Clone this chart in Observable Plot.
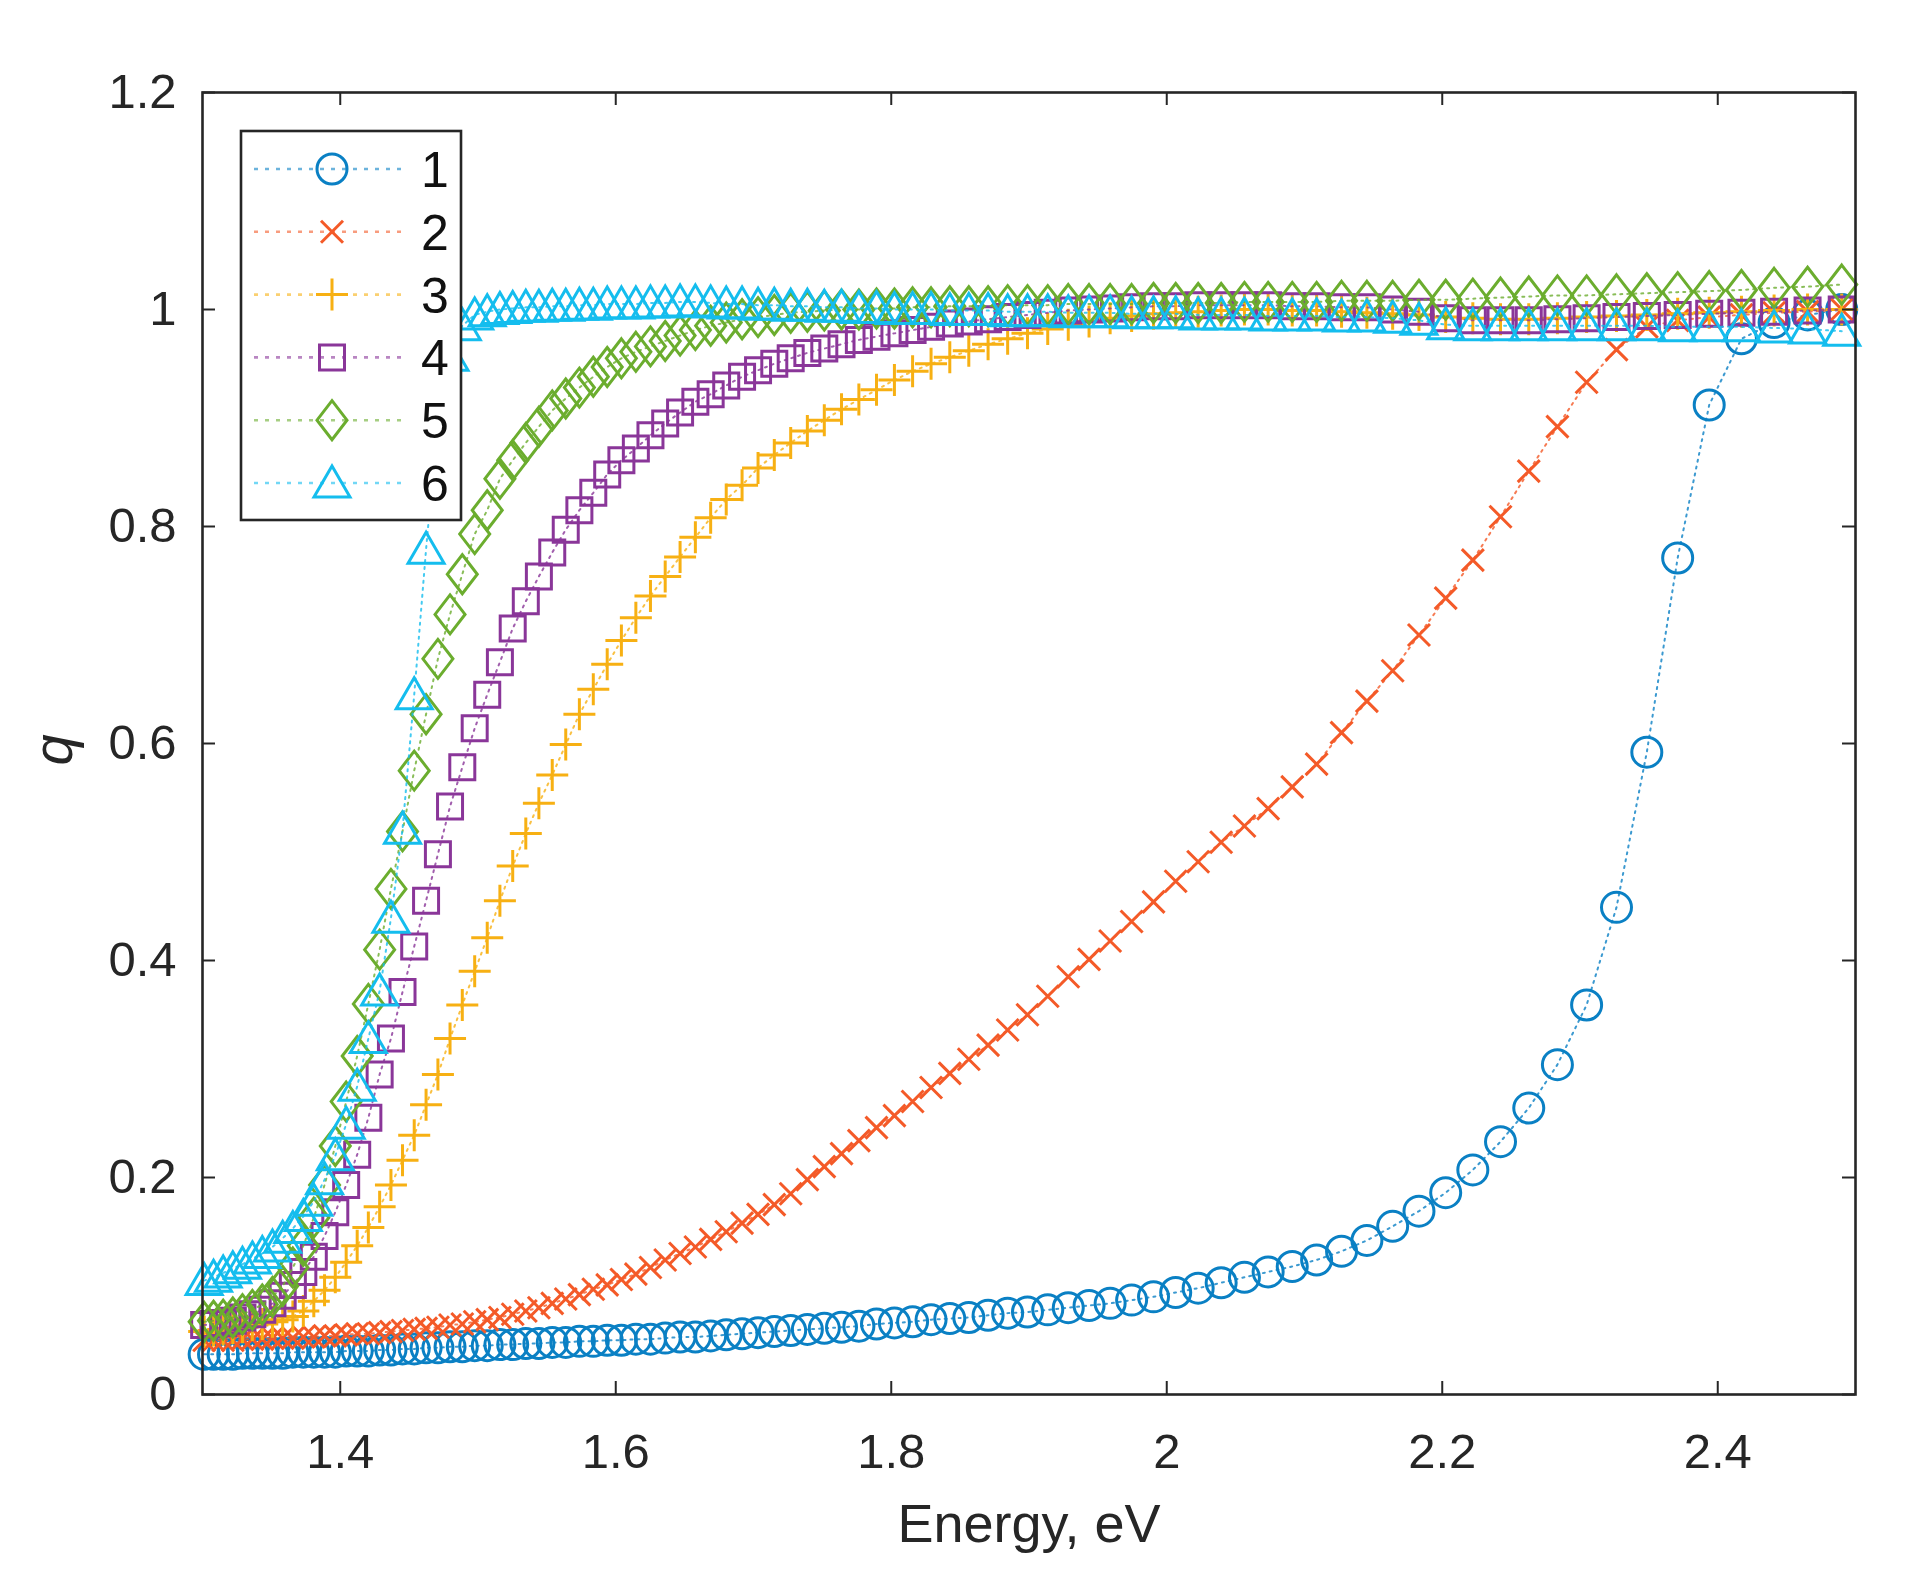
<!DOCTYPE html>
<html>
<head>
<meta charset="utf-8">
<script src="https://cdn.jsdelivr.net/npm/d3@7"></script>
<script src="https://cdn.jsdelivr.net/npm/@observablehq/plot@0.6"></script>
<style>
  html, body { margin: 0; padding: 0; background: #fff; }
  #wrap { position: relative; width: 1932px; height: 1582px; }
  #wrap > svg { position: absolute; left: 0; top: 0; }
</style>
</head>
<body>
<div id="wrap"></div>
<script>
// Photon energies (eV) of the sampled points
const energy = [
  1.3012,1.3080,1.3150,1.3220,1.3290,1.3362,1.3434,1.3508,1.3582,1.3656,
  1.3732,1.3808,1.3886,1.3964,1.4043,1.4123,1.4204,1.4286,1.4368,1.4452,
  1.4537,1.4623,1.4709,1.4797,1.4886,1.4976,1.5067,1.5159,1.5252,1.5347,
  1.5442,1.5539,1.5637,1.5736,1.5837,1.5938,1.6041,1.6146,1.6252,1.6359,
  1.6467,1.6578,1.6689,1.6802,1.6917,1.7033,1.7151,1.7270,1.7391,1.7514,
  1.7639,1.7765,1.7893,1.8023,1.8155,1.8289,1.8425,1.8563,1.8703,1.8845,
  1.8989,1.9136,1.9285,1.9436,1.9589,1.9745,1.9904,2.0065,2.0228,2.0395,
  2.0564,2.0736,2.0911,2.1088,2.1269,2.1453,2.1640,2.1831,2.2025,2.2222,
  2.2423,2.2628,2.2836,2.3048,2.3265,2.3485,2.3709,2.3938,2.4172,2.4409,
  2.4652,2.4900
];

const q1 = [
  0.037,0.037,0.037,0.037,0.038,0.038,0.038,0.038,0.038,0.039,
  0.039,0.039,0.039,0.039,0.040,0.040,0.040,0.041,0.041,0.042,
  0.042,0.043,0.043,0.044,0.044,0.045,0.045,0.046,0.046,0.047,
  0.047,0.048,0.048,0.049,0.049,0.050,0.050,0.051,0.051,0.052,
  0.053,0.053,0.054,0.055,0.056,0.057,0.058,0.059,0.060,0.061,
  0.062,0.063,0.065,0.066,0.067,0.069,0.070,0.071,0.073,0.075,
  0.076,0.078,0.080,0.082,0.084,0.087,0.090,0.094,0.098,0.103,
  0.108,0.113,0.118,0.124,0.132,0.142,0.155,0.169,0.186,0.207,
  0.233,0.264,0.304,0.359,0.449,0.592,0.771,0.912,0.973,0.988,
  0.995,1.000
];

const q2 = [
  0.050,0.050,0.050,0.050,0.051,0.051,0.051,0.052,0.052,0.052,
  0.053,0.053,0.054,0.054,0.055,0.056,0.056,0.057,0.058,0.059,
  0.060,0.061,0.062,0.064,0.065,0.067,0.069,0.071,0.074,0.077,
  0.080,0.084,0.088,0.092,0.097,0.101,0.106,0.111,0.117,0.124,
  0.130,0.136,0.143,0.150,0.158,0.166,0.175,0.185,0.198,0.210,
  0.222,0.234,0.246,0.257,0.270,0.283,0.296,0.309,0.322,0.336,
  0.350,0.367,0.385,0.401,0.418,0.436,0.454,0.473,0.491,0.509,
  0.524,0.540,0.560,0.581,0.610,0.639,0.667,0.700,0.734,0.769,
  0.809,0.851,0.892,0.933,0.963,0.984,0.990,0.993,0.995,0.997,
  0.998,1.000
];

const q3 = [
  0.058,0.059,0.060,0.061,0.062,0.064,0.065,0.067,0.069,0.072,
  0.077,0.086,0.096,0.108,0.122,0.137,0.154,0.173,0.193,0.216,
  0.239,0.267,0.295,0.328,0.359,0.390,0.421,0.455,0.487,0.517,
  0.545,0.571,0.599,0.627,0.650,0.673,0.695,0.716,0.736,0.754,
  0.772,0.790,0.808,0.825,0.838,0.854,0.866,0.877,0.888,0.898,
  0.908,0.917,0.926,0.935,0.943,0.950,0.956,0.962,0.968,0.973,
  0.978,0.982,0.986,0.989,0.992,0.994,0.996,0.997,0.998,0.999,
  1.000,1.000,0.999,0.999,0.998,0.997,0.996,0.995,0.993,0.992,
  0.991,0.991,0.992,0.993,0.994,0.995,0.996,0.997,0.998,0.999,
  1.000,1.000
];

const q4 = [
  0.064,0.065,0.066,0.068,0.071,0.074,0.078,0.084,0.091,0.101,
  0.113,0.127,0.146,0.168,0.193,0.221,0.255,0.295,0.328,0.371,
  0.413,0.455,0.498,0.542,0.578,0.614,0.645,0.675,0.706,0.731,
  0.754,0.776,0.797,0.815,0.831,0.848,0.861,0.872,0.884,0.895,
  0.905,0.915,0.922,0.930,0.938,0.944,0.950,0.955,0.960,0.964,
  0.968,0.972,0.975,0.978,0.981,0.984,0.987,0.989,0.991,0.993,
  0.995,0.997,0.999,1.000,1.001,1.002,1.003,1.003,1.004,1.004,
  1.004,1.004,1.003,1.003,1.002,1.002,1.000,0.998,0.992,0.990,
  0.990,0.990,0.991,0.992,0.993,0.994,0.995,0.996,0.997,0.998,
  0.999,1.000
];

const q5 = [
  0.067,0.068,0.069,0.071,0.074,0.078,0.083,0.090,0.100,0.117,
  0.137,0.163,0.193,0.229,0.270,0.312,0.360,0.410,0.466,0.519,
  0.575,0.627,0.678,0.719,0.756,0.793,0.815,0.844,0.861,0.877,
  0.892,0.907,0.918,0.928,0.938,0.947,0.955,0.961,0.966,0.971,
  0.976,0.981,0.985,0.988,0.991,0.993,0.995,0.997,0.998,0.999,
  1.000,1.000,1.001,1.001,1.002,1.002,1.003,1.003,1.003,1.004,
  1.004,1.004,1.005,1.005,1.005,1.005,1.006,1.006,1.006,1.006,
  1.007,1.007,1.007,1.007,1.008,1.008,1.008,1.009,1.009,1.010,
  1.011,1.012,1.013,1.013,1.014,1.015,1.016,1.017,1.018,1.020,
  1.021,1.023
];

const q6 = [
  0.105,0.108,0.112,0.116,0.120,0.125,0.130,0.136,0.144,0.153,
  0.164,0.178,0.198,0.220,0.249,0.284,0.328,0.372,0.439,0.521,
  0.645,0.779,0.900,0.957,0.985,0.995,0.998,1.000,1.001,1.002,
  1.002,1.003,1.003,1.004,1.004,1.005,1.005,1.005,1.006,1.006,
  1.007,1.007,1.006,1.005,1.005,1.004,1.004,1.003,1.003,1.002,
  1.002,1.001,1.001,1.000,1.000,1.000,0.999,0.999,0.999,0.998,
  0.998,0.998,0.997,0.997,0.997,0.996,0.996,0.996,0.995,0.995,
  0.995,0.994,0.994,0.994,0.993,0.993,0.992,0.990,0.986,0.985,
  0.985,0.985,0.985,0.985,0.985,0.985,0.984,0.984,0.984,0.983,
  0.982,0.980
];

const seriesNames = ["1", "2", "3", "4", "5", "6"];
const seriesColors = ["#0a80c4", "#f45a28", "#f7b013", "#8a3699", "#6bad2e", "#14bdee"];
const xTicks = [1.4, 1.6, 1.8, 2, 2.2, 2.4];
const yTicks = [0, 0.2, 0.4, 0.6, 0.8, 1, 1.2];
const xTitle = "Energy, eV";
const yTitle = "q";

// MATLAB-like marker shapes (pixel sizes)
const shapes = {
  circle(c) { c.moveTo(15, 0); c.arc(0, 0, 15, 0, 2 * Math.PI); },
  times(c) { c.moveTo(-11, -11); c.lineTo(11, 11); c.moveTo(-11, 11); c.lineTo(11, -11); },
  plus(c) { c.moveTo(-16, 0); c.lineTo(16, 0); c.moveTo(0, -16); c.lineTo(0, 16); },
  square(c) { c.moveTo(-12.5, -12.5); c.lineTo(12.5, -12.5); c.lineTo(12.5, 12.5); c.lineTo(-12.5, 12.5); c.closePath(); },
  diamond(c) { c.moveTo(0, -19.5); c.lineTo(15, 0); c.lineTo(0, 19.5); c.lineTo(-15, 0); c.closePath(); },
  triangle(c) { c.moveTo(0, -17); c.lineTo(18, 14); c.lineTo(-18, 14); c.closePath(); }
};
const shapeOrder = ["circle", "times", "plus", "square", "diamond", "triangle"];
const symbols = shapeOrder.map(k => ({ draw(ctx) { shapes[k](ctx); } }));

const allQ = [q1, q2, q3, q4, q5, q6];
const tables = allQ.map(qs => energy.map((e, i) => ({ E: e, q: qs[i] })));

const W = 1932, H = 1582;
const mL = 202, mR = 77, mT = 92, mB = 188;
const innerW = W - mL - mR, innerH = H - mT - mB;
const fmt = d3.format("~g");
const ink = "#262626";
const font = "'Liberation Sans', Arial, Helvetica, sans-serif";

const marks = [];
tables.forEach((t, i) => {
  marks.push(Plot.line(t, {x: "E", y: "q", stroke: seriesColors[i], strokeWidth: 2, strokeDasharray: "2,5", strokeOpacity: 0.8}));
  marks.push(Plot.dot(t, {x: "E", y: "q", symbol: symbols[i], stroke: seriesColors[i], fill: "none", strokeWidth: 3}));
});

const chart = Plot.plot({
  width: W, height: H,
  marginLeft: mL, marginRight: mR, marginTop: mT, marginBottom: mB,
  style: {fontFamily: font, fontSize: "49px", color: ink, background: "transparent"},
  x: {domain: [1.3, 2.5], ticks: xTicks, tickFormat: fmt, tickSize: 0, tickPadding: 39, label: null},
  y: {domain: [0, 1.2], ticks: yTicks, tickFormat: fmt, tickSize: 0, tickPadding: 26, label: null},
  marks: [
    ...marks,
    Plot.tickX(xTicks, {x: d => d, stroke: ink, strokeWidth: 2, insetTop: innerH - 13}),
    Plot.tickX(xTicks, {x: d => d, stroke: ink, strokeWidth: 2, insetBottom: innerH - 13}),
    Plot.tickY(yTicks, {y: d => d, stroke: ink, strokeWidth: 2, insetRight: innerW - 13}),
    Plot.tickY(yTicks, {y: d => d, stroke: ink, strokeWidth: 2, insetLeft: innerW - 13}),
    Plot.frame({stroke: ink, strokeWidth: 2.6}),
    Plot.text([xTitle], {frameAnchor: "bottom", lineAnchor: "top", dy: 109, fontSize: 54, fill: ink}),
    Plot.text([yTitle], {frameAnchor: "left", rotate: -90, dx: -148, dy: 22, fontSize: 56, fontStyle: "italic", fill: ink})
  ]
});

const wrap = document.getElementById("wrap");
wrap.appendChild(chart);

// Legend box (inside axes, drawn on top like MATLAB)
const leg = d3.select(wrap).append("svg")
  .attr("width", W).attr("height", H)
  .style("pointer-events", "none");
leg.append("rect")
  .attr("x", 241).attr("y", 131).attr("width", 220).attr("height", 389)
  .attr("fill", "#fff").attr("stroke", ink).attr("stroke-width", 2.6);
seriesNames.forEach((name, i) => {
  const cy = 169 + i * 62.8;
  leg.append("line")
    .attr("x1", 254).attr("x2", 407).attr("y1", cy).attr("y2", cy)
    .attr("stroke", seriesColors[i]).attr("stroke-width", 2.6)
    .attr("stroke-dasharray", "4,7").attr("stroke-opacity", 0.6);
  const p = d3.path();
  shapes[shapeOrder[i]](p);
  leg.append("path")
    .attr("d", p.toString())
    .attr("transform", `translate(332,${cy})`)
    .attr("fill", "none")
    .attr("stroke", seriesColors[i]).attr("stroke-width", 3);
  leg.append("text")
    .attr("x", 421).attr("y", cy).attr("dy", "0.36em")
    .attr("font-family", font).attr("font-size", 50).attr("fill", "#111")
    .text(name);
});
</script>
</body>
</html>
